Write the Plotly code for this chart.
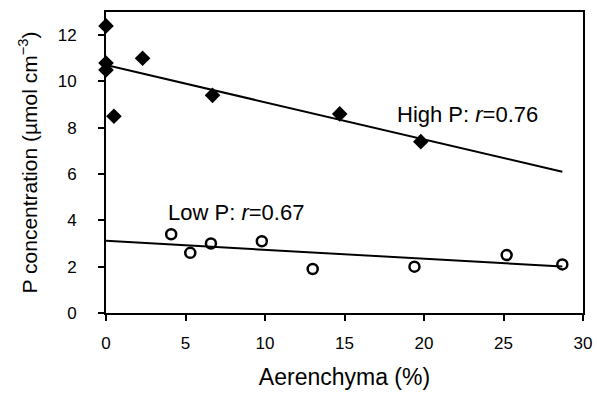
import numpy as np
import plotly.graph_objects as go

# Data
high_x = [0, 0, 0, 0.5, 2.3, 6.7, 14.7, 19.8]
high_y = [12.4, 10.8, 10.5, 8.5, 11.0, 9.4, 8.6, 7.4]
low_x = [4.1, 5.3, 6.6, 9.8, 13.0, 19.4, 25.2, 28.7]
low_y = [3.4, 2.6, 3.0, 3.1, 1.9, 2.0, 2.5, 2.1]

high_label = "High P: <i>r</i>=0.76"
low_label = "Low P: <i>r</i>=0.67"

x_ticks = [0, 5, 10, 15, 20, 25, 30]
y_ticks = [0, 2, 4, 6, 8, 10, 12]

FONT = "Liberation Sans, Arial, sans-serif"

# regression lines from the data
x_end = max(max(high_x), max(low_x))
line_x = np.array([0, x_end])
hs, hi = np.polyfit(high_x, high_y, 1)
ls, li = np.polyfit(low_x, low_y, 1)

fig = go.Figure()
fig.add_trace(go.Scatter(x=line_x, y=hs * line_x + hi, mode="lines",
                         line=dict(color="black", width=2), showlegend=False,
                         cliponaxis=False))
fig.add_trace(go.Scatter(x=line_x, y=ls * line_x + li, mode="lines",
                         line=dict(color="black", width=2), showlegend=False,
                         cliponaxis=False))
fig.add_trace(go.Scatter(x=high_x, y=high_y, mode="markers",
                         marker=dict(symbol="diamond", size=12, color="black"),
                         showlegend=False, cliponaxis=False))
fig.add_trace(go.Scatter(x=low_x, y=low_y, mode="markers",
                         marker=dict(symbol="circle-open", size=10, color="black",
                                     line=dict(width=2.5, color="black")),
                         showlegend=False, cliponaxis=False))

fig.add_annotation(x=18.2, y=8.58, text=high_label, showarrow=False,
                   xanchor="left", yanchor="middle",
                   font=dict(family=FONT, size=22, color="black"))
fig.add_annotation(x=3.75, y=4.36, text=low_label, showarrow=False,
                   xanchor="left", yanchor="middle",
                   font=dict(family=FONT, size=22, color="black"))

fig.update_layout(
    width=597, height=396,
    margin=dict(l=106, r=14, t=12, b=83, autoexpand=False),
    paper_bgcolor="white", plot_bgcolor="white",
    font=dict(family=FONT, color="black"),
    xaxis=dict(range=[0, 30], tickvals=x_ticks, showgrid=False, zeroline=False,
               showline=True, linecolor="black", linewidth=2, mirror=True,
               ticks="outside", ticklen=6, tickwidth=2, tickcolor="black",
               tickfont=dict(size=17), ticklabelstandoff=8,
               title=dict(text="Aerenchyma (%)", font=dict(size=23), standoff=16)),
    yaxis=dict(range=[0, 13], tickvals=y_ticks, showgrid=False, zeroline=False,
               showline=True, linecolor="black", linewidth=2, mirror=True,
               ticks="outside", ticklen=6, tickwidth=2, tickcolor="black",
               tickfont=dict(size=17), ticklabelstandoff=18,
               title=dict(text="P concentration (µmol cm<sup>−3</sup>)",
                          font=dict(size=21), standoff=14)),
)

fig.write_html("out.html")
